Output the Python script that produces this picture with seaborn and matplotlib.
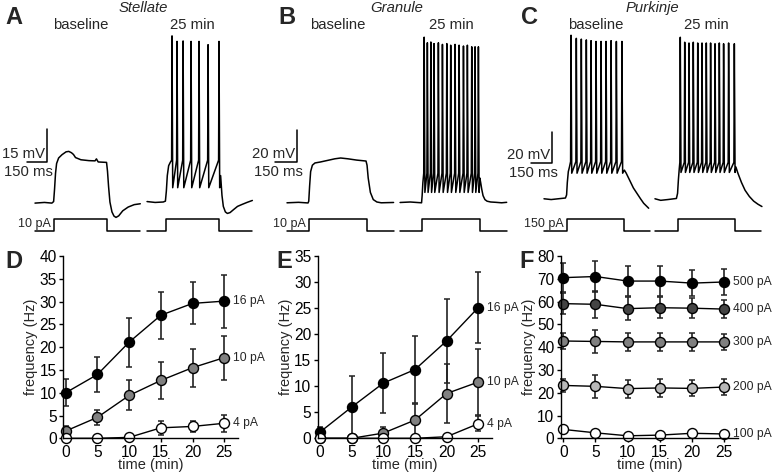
"""Cerebellar neuron excitability: example sweeps and firing frequency over time."""

import matplotlib

matplotlib.use("Agg")
import matplotlib.pyplot as plt
import matplotlib.transforms as mtransforms
import seaborn as sns


sns.set_theme(style="ticks")
plt.rcParams["font.family"] = ["Liberation Sans", "DejaVu Sans"]
plt.rcParams["axes.linewidth"] = 1.0
plt.rcParams["axes.edgecolor"] = "black"
plt.rcParams["xtick.color"] = "black"
plt.rcParams["ytick.color"] = "black"

FIG_W, FIG_H = 777, 475
REST_MV = -70

# ---- firing frequency (Hz) vs time (min) ----
TIME_MIN = [0, 5, 10, 15, 20, 25]

STELLATE_16PA = [10.0, 14.0, 21.1, 27.0, 29.6, 30.1]
STELLATE_16PA_SEM = [3.0, 3.9, 5.4, 5.2, 4.6, 5.8]
STELLATE_10PA = [1.6, 4.6, 9.4, 12.7, 15.5, 17.7]
STELLATE_10PA_SEM = [1.0, 1.7, 3.3, 4.0, 4.2, 4.8]
STELLATE_4PA = [0.0, 0.0, 0.2, 2.3, 2.6, 3.3]
STELLATE_4PA_SEM = [0.0, 0.0, 0.5, 1.6, 1.3, 1.9]

GRANULE_16PA = [1.2, 6.0, 10.6, 13.2, 18.7, 25.1]
GRANULE_16PA_SEM = [1.0, 6.0, 5.8, 6.5, 8.0, 6.8]
GRANULE_10PA = [0.0, 0.0, 1.0, 3.5, 8.6, 10.8]
GRANULE_10PA_SEM = [0.0, 0.0, 1.2, 3.1, 5.6, 6.3]
GRANULE_4PA = [0.0, 0.0, 0.0, 0.0, 0.3, 2.8]
GRANULE_4PA_SEM = [0.0, 0.0, 0.0, 0.0, 0.3, 1.4]

PURKINJE_500PA = [70.5, 71.0, 69.0, 69.0, 68.1, 68.6]
PURKINJE_500PA_SEM = [6.5, 7.0, 6.5, 6.5, 5.8, 5.6]
PURKINJE_400PA = [59.1, 58.8, 56.9, 57.3, 57.1, 56.7]
PURKINJE_400PA_SEM = [4.5, 5.8, 5.0, 4.5, 4.5, 4.0]
PURKINJE_300PA = [42.7, 42.5, 42.3, 42.3, 42.3, 42.3]
PURKINJE_300PA_SEM = [3.5, 5.0, 4.0, 4.0, 4.0, 3.5]
PURKINJE_200PA = [23.2, 22.8, 21.8, 22.1, 21.9, 22.5]
PURKINJE_200PA_SEM = [3.0, 5.0, 4.0, 4.0, 3.5, 3.5]
PURKINJE_100PA = [3.9, 2.4, 1.1, 1.4, 2.2, 1.9]
PURKINJE_100PA_SEM = [1.0, 0.8, 0.5, 0.5, 0.5, 0.6]

# ---- example sweeps (ms, mV) ----
# Stellate, 10 pA step
A_STEP = (140, 535, 10)          # on, off, pA
A_SWEEP_END, A_SWEEP_GAP = 780, 830
A_BASE_T = [0, 70, 125, 138, 145, 152, 160, 175, 200, 230, 250, 270, 285, 300, 340,
            400, 445, 455, 468, 530, 537, 545, 555, 570, 585, 600, 620, 650, 690, 735, 780]
A_BASE_V = [-70.5, -70.2, -70.5, -69.8, -64, -57, -52.5, -50, -48.5, -47.2, -47.0, -47.6,
            -48.4, -49.8, -50.8, -51.2, -51.3, -50.4, -51.8, -52.0, -56, -63, -70, -74.5,
            -76.4, -77, -76.3, -74.0, -72.3, -71.2, -70.8]
A_25_PRE_T = [0, 60, 120, 136, 143, 150, 160, 172]
A_25_PRE_V = [-69.8, -70.2, -70.0, -69.6, -65, -58, -53.5, -52]
A_25_SPIKES = [185, 222, 267, 326, 385, 452, 533]
A_25_PEAKS = [5.5, 3.0, 3.2, 3.0, 3.0, 1.5, 3.0]
A_25_BASE, A_25_TROUGH = -51.0, -63.5
A_25_POST_T = [545, 555, 565, 580, 595, 615, 640, 670, 700, 740, 780]
A_25_POST_V = [-58, -67, -72, -74.5, -75.2, -74.8, -73.5, -72, -71.2, -70.2, -69.3]

# Granule, 10 pA step
B_STEP = (152, 552, 10)
B_SWEEP_END, B_SWEEP_GAP = 735, 780
B_BASE_T = [0, 80, 145, 150, 156, 163, 175, 193, 230, 280, 330, 370, 420, 480, 545,
            552, 560, 575, 595, 620, 650, 690, 735]
B_BASE_V = [-70.5, -70.2, -70.6, -69.5, -60, -51, -47, -45.6, -45, -44, -43, -42.5, -43,
            -43.8, -44.4, -47, -55, -64, -68.5, -70, -70.5, -70.4, -70.3]
B_25_PRE_T = [0, 70, 148, 152, 157, 161]
B_25_PRE_V = [-70.3, -70.0, -70.5, -66, -58, -54]
B_25_SPIKES = [166, 188, 212, 234, 264, 292, 322, 349, 379, 407, 437, 464, 494, 517, 540]
B_25_PEAKS = [33, 29.5, 30, 29, 29.5, 28.5, 29, 28, 28.5, 28, 27.5, 28, 27, 27, 27]
B_25_BASE, B_25_TROUGH = -52.0, -64.0
B_25_POST_T = [550, 556, 563, 572, 585, 600, 625, 660, 700, 735]
B_25_POST_V = [-55, -58, -62, -66, -68.5, -69.5, -70, -70.2, -70.5, -70.2]

# Purkinje, 150 pA step
C_STEP = (160, 562, 150)
C_SWEEP_END, C_SWEEP_GAP = 740, 776
C_BASE_PRE_T = [0, 50, 100, 150, 158, 163, 170, 178]
C_BASE_PRE_V = [-70.5, -71, -70.5, -70, -68, -60, -53, -50]
C_BASE_SPIKES = [189, 226, 261, 296, 329, 364, 399, 434, 469, 506, 545]
C_BASE_PEAKS = [35, 33, 32.5, 32, 31.5, 31, 31, 31, 31.5, 31, 31]
C_BASE_BASE, C_BASE_TROUGH = -46.5, -54.0
C_BASE_POST_T = [562, 575, 604, 625, 650, 675, 697, 732]
C_BASE_POST_V = [-52, -54, -59.5, -63.5, -67, -70.5, -73.4, -76.6]
C_25_PRE_T = [0, 40, 90, 150, 158, 164, 170]
C_25_PRE_V = [-70.5, -71.5, -71, -70.3, -67, -58, -51]
C_25_SPIKES = [177, 208, 238, 268, 299, 329, 359, 389, 420, 450, 480, 515, 555]
C_25_PEAKS = [33.7, 30.5, 30, 30.5, 30, 30, 30, 30, 29.5, 30, 29.5, 30, 29.5]
C_25_BASE, C_25_TROUGH = -47.0, -53.5
C_25_POST_T = [566, 580, 605, 630, 660, 690, 720, 748]
C_25_POST_V = [-50, -54, -60, -65, -69, -72, -74, -75.5]


def px_box(left, top, width, height):
    return [left / FIG_W, 1 - (top + height) / FIG_H, width / FIG_W, height / FIG_H]


def fig_text(fig, x, y, s, **kw):
    fig.text(x / FIG_W, 1 - y / FIG_H, s, **kw)


def sweep(pre_t, pre_v, spikes=(), peaks=(), base=0.0, trough=0.0, post_t=(), post_v=()):
    t, v = list(pre_t), list(pre_v)
    for s, p in zip(spikes, peaks):
        t += [s - 3, s, s + 5]
        v += [base, p, trough]
    return t + list(post_t), v + list(post_v)


def draw_traces(fig, origin, ms_px, mv_px, rest_px, step, sweep_end, gap,
                base_sweep, late_sweep, title, bar_at, bar_mv, step_label):
    x0, x1 = -260, 1660
    left = origin + x0 * ms_px
    width = (x1 - x0) * ms_px
    top, bottom = 28, 240
    ax = fig.add_axes(px_box(left, top, width, bottom - top))
    ax.set_xlim(x0, x1)
    ax.set_ylim(REST_MV - (bottom - rest_px) / mv_px, REST_MV + (rest_px - top) / mv_px)
    ax.axis("off")

    ax.plot(*base_sweep, color="black", lw=1.1)
    t_late, v_late = late_sweep
    ax.plot([t + gap for t in t_late], v_late, color="black", lw=1.1)

    # scale bar
    bx, by = bar_at
    ax.plot([bx - 150, bx, bx], [by, by, by + bar_mv], color="black", lw=1.1)
    ax.annotate(f"{bar_mv} mV", (bx, by), xytext=(-1.5, 1.0), textcoords="offset points",
                ha="right", va="bottom", fontsize=10.7)
    ax.annotate("150 ms", (bx, by), xytext=(4, -2.0), textcoords="offset points",
                ha="right", va="top", fontsize=10.7)

    on, off, amp = step
    blend = mtransforms.blended_transform_factory(ax.transData, fig.transFigure)
    mid = (on + off) / 2
    ax.text(mid, 1 - 25 / FIG_H, "baseline", transform=blend, ha="center", va="center", fontsize=10.7)
    ax.text(mid + gap, 1 - 25 / FIG_H, "25 min", transform=blend, ha="center", va="center", fontsize=10.7)
    ax.text((sweep_end + gap) / 2, 1 - 8 / FIG_H, title, transform=blend, ha="center",
            va="center", fontsize=10.7, style="italic")

    # current step
    lo_px, hi_px, ctop, cbot = 230.8, 219.0, 212, 238
    cax = fig.add_axes(px_box(left, ctop, width, cbot - ctop))
    cax.set_xlim(x0, x1)
    per = (lo_px - hi_px) / amp
    cax.set_ylim(-(cbot - lo_px) / per, amp + (hi_px - ctop) / per)
    cax.axis("off")
    for shift in (0, gap):
        cax.plot([shift, shift + on, shift + on, shift + off, shift + off, shift + sweep_end],
                 [0, 0, amp, amp, 0, 0], color="black", lw=1.1)
    cax.annotate(step_label, (on, 0), xytext=(-2.5, 0.8), textcoords="offset points",
                 ha="right", va="bottom", fontsize=9)


def draw_freq(fig, box, series, ymax, ystep):
    ax = fig.add_axes(px_box(*box))
    for vals, sem, fill, label in series:
        ax.errorbar(TIME_MIN, vals, yerr=sem, fmt="none", ecolor="#222222", elinewidth=1.2,
                    capsize=2.2, capthick=1.1, clip_on=False, zorder=1.8)
        sns.lineplot(x=TIME_MIN, y=vals, color="black", lw=1.0, marker="o", markersize=7.2,
                     markerfacecolor=fill, markeredgecolor="black", markeredgewidth=1.0,
                     clip_on=False, zorder=2.2, ax=ax)
        ax.annotate(label, (TIME_MIN[-1], vals[-1]), xytext=(6, 0), textcoords="offset points",
                    ha="left", va="center", fontsize=8.7, annotation_clip=False)
    ax.set_xlim(-0.4, 27.2)
    ax.set_ylim(0, ymax)
    ax.set_xticks(TIME_MIN)
    ax.set_yticks(range(0, ymax + 1, ystep))
    ax.tick_params(labelsize=11.2, length=3, width=1, pad=1.5)
    ax.set_xlabel("time (min)", fontsize=10.5, labelpad=-1)
    ax.set_ylabel("frequency (Hz)", fontsize=10.5, labelpad=1)
    sns.despine(ax=ax)
    return ax


fig = plt.figure(figsize=(FIG_W / 100, FIG_H / 100), dpi=100)

draw_traces(
    fig, origin=35, ms_px=0.135, mv_px=2.2, rest_px=202, step=A_STEP,
    sweep_end=A_SWEEP_END, gap=A_SWEEP_GAP,
    base_sweep=sweep(A_BASE_T, A_BASE_V),
    late_sweep=sweep(A_25_PRE_T, A_25_PRE_V, A_25_SPIKES, A_25_PEAKS, A_25_BASE,
                     A_25_TROUGH, A_25_POST_T, A_25_POST_V),
    title="Stellate", bar_at=(89, -51.8), bar_mv=15, step_label="10 pA",
)
draw_traces(
    fig, origin=287, ms_px=0.145, mv_px=1.6, rest_px=202, step=B_STEP,
    sweep_end=B_SWEEP_END, gap=B_SWEEP_GAP,
    base_sweep=sweep(B_BASE_T, B_BASE_V),
    late_sweep=sweep(B_25_PRE_T, B_25_PRE_V, B_25_SPIKES, B_25_PEAKS, B_25_BASE,
                     B_25_TROUGH, B_25_POST_T, B_25_POST_V),
    title="Granule", bar_at=(69, -45), bar_mv=20, step_label="10 pA",
)
draw_traces(
    fig, origin=544, ms_px=0.143, mv_px=1.55, rest_px=198, step=C_STEP,
    sweep_end=C_SWEEP_END, gap=C_SWEEP_GAP,
    base_sweep=sweep(C_BASE_PRE_T, C_BASE_PRE_V, C_BASE_SPIKES, C_BASE_PEAKS, C_BASE_BASE,
                     C_BASE_TROUGH, C_BASE_POST_T, C_BASE_POST_V),
    late_sweep=sweep(C_25_PRE_T, C_25_PRE_V, C_25_SPIKES, C_25_PEAKS, C_25_BASE,
                     C_25_TROUGH, C_25_POST_T, C_25_POST_V),
    title="Purkinje", bar_at=(56, -47.4), bar_mv=20, step_label="150 pA",
)

draw_freq(fig, (63.2, 256, 175, 182.3), [
    (STELLATE_16PA, STELLATE_16PA_SEM, "black", "16 pA"),
    (STELLATE_10PA, STELLATE_10PA_SEM, "#808080", "10 pA"),
    (STELLATE_4PA, STELLATE_4PA_SEM, "white", "4 pA"),
], 40, 5)
draw_freq(fig, (317.5, 256, 174.7, 182.3), [
    (GRANULE_16PA, GRANULE_16PA_SEM, "black", "16 pA"),
    (GRANULE_10PA, GRANULE_10PA_SEM, "#808080", "10 pA"),
    (GRANULE_4PA, GRANULE_4PA_SEM, "white", "4 pA"),
], 35, 5)
draw_freq(fig, (560.7, 256, 177.7, 182.3), [
    (PURKINJE_500PA, PURKINJE_500PA_SEM, "black", "500 pA"),
    (PURKINJE_400PA, PURKINJE_400PA_SEM, "#444444", "400 pA"),
    (PURKINJE_300PA, PURKINJE_300PA_SEM, "#808080", "300 pA"),
    (PURKINJE_200PA, PURKINJE_200PA_SEM, "#b8b8b8", "200 pA"),
    (PURKINJE_100PA, PURKINJE_100PA_SEM, "white", "100 pA"),
], 80, 10)

for letter, x, y in [("A", 14, 17), ("B", 287, 17), ("C", 530, 17),
                     ("D", 14, 261), ("E", 284, 261), ("F", 527, 261)]:
    fig_text(fig, x, y, letter, ha="center", va="center", fontsize=17, fontweight="bold")

fig.savefig("out.png", dpi=100)
